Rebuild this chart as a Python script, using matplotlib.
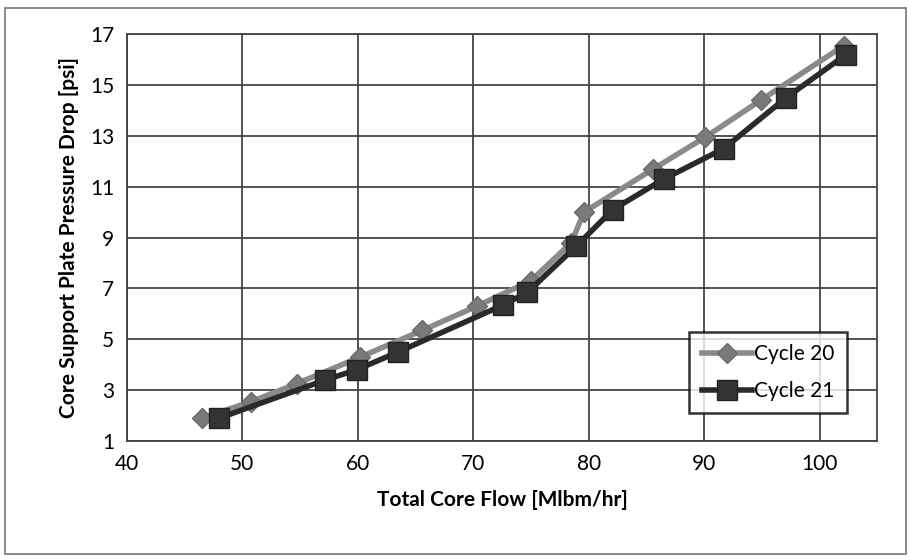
import matplotlib
matplotlib.use("Agg")
import matplotlib.pyplot as plt
from matplotlib.patches import Rectangle

plt.rcParams['font.family'] = ['Lato', 'DejaVu Sans']

# Cycle 20 (diamonds)
flow_c20 = [46.5, 50.8, 54.7, 60.2, 65.6, 70.3, 75.0, 78.5, 79.6, 85.6, 90.1, 94.9, 102.1]
dp_c20 = [1.9, 2.55, 3.25, 4.3, 5.35, 6.3, 7.3, 8.8, 10.0, 11.7, 12.95, 14.4, 16.55]

# Cycle 21 (squares)
flow_c21 = [48.0, 57.2, 59.9, 63.5, 72.6, 74.7, 78.9, 82.1, 86.5, 91.7, 97.1, 102.3]
dp_c21 = [1.9, 3.4, 3.8, 4.5, 6.35, 6.85, 8.65, 10.1, 11.3, 12.5, 14.5, 16.2]

xticks = [40, 50, 60, 70, 80, 90, 100]
yticks = [1, 3, 5, 7, 9, 11, 13, 15, 17]

fig = plt.figure(figsize=(9.12, 5.6), dpi=100)
ax = fig.add_axes([0.139, 0.2125, 0.823, 0.7265])

# outer chart border
fig.patches.append(Rectangle((0.006, 0.01), 0.987, 0.975, transform=fig.transFigure,
                             fill=False, edgecolor='#777777', linewidth=1.2))

ax.plot(flow_c20, dp_c20, color='#8a8a8a', lw=4, marker='D', ms=10,
        mfc='#7a7a7a', mec='#6a6a6a', label='Cycle 20', zorder=3)
ax.plot(flow_c21, dp_c21, color='#2a2a2a', lw=4, marker='s', ms=14,
        mfc='#333333', mec='#222222', label='Cycle 21', zorder=4)

ax.set_xlim(40, 105)
ax.set_ylim(1, 17)
ax.set_xticks(xticks)
ax.set_yticks(yticks)
ax.grid(True, color='#444444', linewidth=1.3)
ax.set_axisbelow(True)
for s in ax.spines.values():
    s.set_color('#444444')
    s.set_linewidth(1.3)
ax.tick_params(length=0, labelsize=15, pad=9)

ax.set_xlabel('Total Core Flow [Mlbm/hr]', fontsize=15, fontweight='bold', labelpad=12)
ax.set_ylabel('Core Support Plate Pressure Drop [psi]', fontsize=15, fontweight='bold', labelpad=8)

leg = ax.legend(loc='lower right', bbox_to_anchor=(0.973, 0.042), fontsize=15,
                frameon=True, fancybox=False, edgecolor='black', handlelength=2.4,
                borderpad=0.6, labelspacing=0.8, handletextpad=0.1)
leg.get_frame().set_linewidth(1.8)

fig.savefig('out.png', dpi=100)
